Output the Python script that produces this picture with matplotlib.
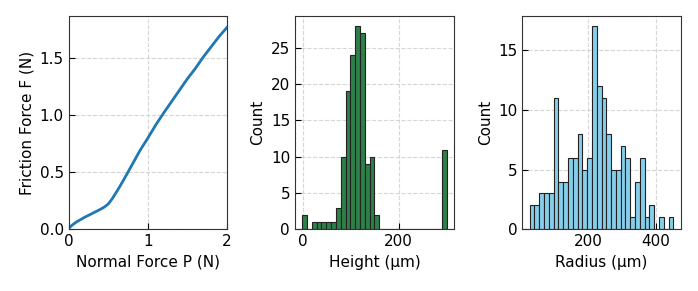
import numpy as np
import matplotlib
matplotlib.use('Agg')
import matplotlib.pyplot as plt

# curva de atrito
carga_p = [0.0, 0.05, 0.1, 0.2, 0.3, 0.4, 0.45, 0.5, 0.55, 0.6, 0.65, 0.7, 0.8, 0.9, 1.0,
           1.1, 1.2, 1.3, 1.4, 1.5, 1.6, 1.7, 1.8, 1.9, 2.0]
atrito_f = [0.01, 0.04, 0.065, 0.105, 0.14, 0.175, 0.195, 0.222, 0.268, 0.323, 0.38, 0.44,
            0.565, 0.69, 0.80, 0.915, 1.02, 1.12, 1.22, 1.32, 1.41, 1.51, 1.60, 1.69, 1.77]

# histogramas (contagens por classe, 30 classes)
altura_lim = (-1, 300)
altura_cont = [2, 0, 1, 1, 1, 1, 1, 3, 10, 19, 24, 28, 27, 9, 10,
               2, 0, 0, 0, 0, 0, 0, 0, 0, 0, 0, 0, 0, 0, 11]
raio_lim = (25, 453)
raio_cont = [2, 2, 3, 3, 3, 11, 4, 4, 6, 6, 8, 5, 6, 17, 12,
             11, 8, 5, 5, 7, 6, 1, 4, 6, 1, 2, 0, 1, 0, 1]

plt.rcParams['font.size'] = 11

fig = plt.figure(figsize=(6.98, 2.91), dpi=100)
ax1 = fig.add_axes([0.0984, 0.212, 0.2268, 0.733])
ax2 = fig.add_axes([0.4226, 0.212, 0.2278, 0.733])
ax3 = fig.add_axes([0.7483, 0.212, 0.2269, 0.733])

ax1.plot(carga_p, atrito_f, color='#1f77b4', linewidth=2)
ax1.set_xlim(0, 2)
ax1.set_ylim(0, 1.87)
ax1.set_xticks([0, 1, 2])
ax1.set_yticks([0, 0.5, 1.0, 1.5])
ax1.set_xlabel('Normal Force P (N)')
ax1.set_ylabel('Friction Force F (N)')

def histograma(ax, lim, cont, cor):
    bordas = np.linspace(lim[0], lim[1], len(cont) + 1)
    ax.bar(bordas[:-1], cont, width=np.diff(bordas), align='edge',
           color=cor, edgecolor='#222222', linewidth=0.8)
    ax.set_ylabel('Count')

histograma(ax2, altura_lim, altura_cont, '#2e8049')
ax2.set_xlabel('Height (µm)')
ax2.set_xticks([0, 200])
ax2.set_yticks([0, 5, 10, 15, 20, 25])

histograma(ax3, raio_lim, raio_cont, '#87ceeb')
ax3.set_xlabel('Radius (µm)')
ax3.set_xticks([200, 400])
ax3.set_yticks([0, 5, 10, 15])

for ax in (ax1, ax2, ax3):
    ax.grid(True, linestyle='--', color='#cccccc', alpha=0.8, linewidth=0.8)
    ax.set_axisbelow(True)
    ax.tick_params(direction='in', length=4, labelsize=11)
    for s in ax.spines.values():
        s.set_color('#333333')

fig.savefig('out.png', dpi=100)
